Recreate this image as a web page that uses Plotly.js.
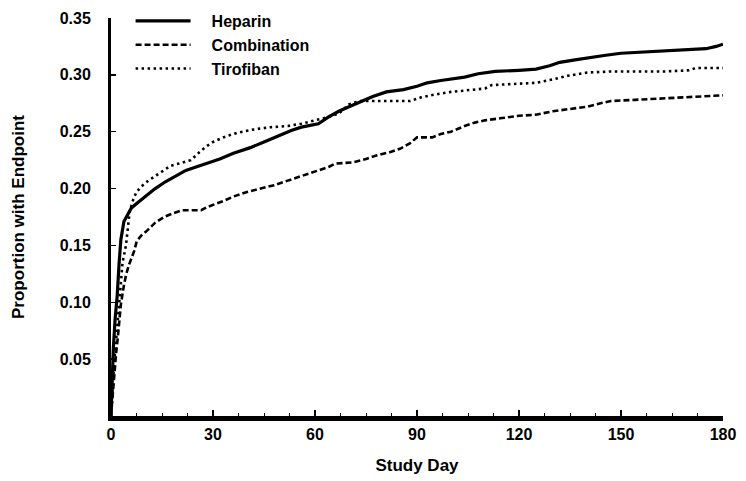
<!DOCTYPE html>
<html>
<head>
<meta charset="utf-8">
<script src="https://cdn.plot.ly/plotly-3.0.1.min.js"></script>
<style>html,body{margin:0;padding:0;background:#fff;}#chart{width:746px;height:481px;}</style>
</head>
<body>
<div id="chart"></div>
<script>
// Heparin (solid)
const heparinDay = [0,0.3,0.7,1.2,1.8,2.4,2.9,3.8,5,6,8,10,13,16,19,22,25,28,32,36,41,45,49,53,56,61,64,67,70,73,77,81,86,90,93,97,100,104,108,113,120,125,129,132,136,140,145,150,157,164,170,175,178,180];
const heparinVal = [0,0.03,0.06,0.085,0.105,0.135,0.155,0.171,0.178,0.183,0.188,0.193,0.2,0.206,0.211,0.216,0.219,0.222,0.226,0.231,0.236,0.241,0.246,0.251,0.254,0.257,0.263,0.268,0.272,0.276,0.281,0.285,0.287,0.29,0.293,0.295,0.296,0.298,0.301,0.303,0.304,0.305,0.308,0.311,0.313,0.315,0.317,0.319,0.32,0.321,0.322,0.323,0.325,0.327];

// Combination (dashed)
const comboDay = [0,0.5,1,1.5,2,2.5,2.9,3.8,4.5,5.3,6.8,7.6,9,10.6,13,15.6,18,21,24,26.5,28.5,30.5,33,36,40,44,48,52,56,61,64,66,71,75,78,82,85,88,90,94.5,97,100,104,107,110,115,120,125,130,135,140,144,147,154,160,164,172,180];
const comboVal = [0,0.02,0.04,0.055,0.069,0.085,0.098,0.115,0.125,0.133,0.145,0.154,0.159,0.163,0.17,0.175,0.178,0.181,0.181,0.181,0.184,0.186,0.189,0.193,0.197,0.2,0.203,0.207,0.211,0.216,0.219,0.222,0.223,0.226,0.229,0.232,0.235,0.24,0.245,0.245,0.248,0.25,0.255,0.258,0.26,0.262,0.264,0.265,0.268,0.27,0.272,0.275,0.277,0.278,0.279,0.28,0.281,0.282];

// Tirofiban (dotted)
const tiroDay = [0,0.5,1,1.6,2.2,2.8,3.4,4.4,4.8,5.5,6.5,7.5,9,11,14,17.5,20,23.5,26,28,30,33,37,42,47,52,56,60,64,67,70,73,80,88,91,94,100,106,110,112,118,125,130,134,140,147,155,163,170,172,180];
const tiroVal = [0,0.03,0.05,0.07,0.09,0.115,0.135,0.15,0.163,0.18,0.19,0.197,0.202,0.207,0.213,0.22,0.222,0.225,0.232,0.237,0.241,0.245,0.249,0.252,0.254,0.255,0.257,0.26,0.263,0.266,0.274,0.277,0.277,0.277,0.28,0.282,0.285,0.287,0.288,0.291,0.292,0.293,0.296,0.299,0.302,0.303,0.303,0.303,0.304,0.306,0.306];

const seriesNames = ["Heparin", "Combination", "Tirofiban"];
const xTickVals = [0,30,60,90,120,150,180];
const yTickVals = [0.05,0.10,0.15,0.20,0.25,0.30,0.35];
const yTickText = ["0.05","0.10","0.15","0.20","0.25","0.30","0.35"];

const FONT = "Liberation Sans, Arial, sans-serif";
const GAP = "\u2003"; // spacing between legend sample and label

const traces = [
  {x: heparinDay, y: heparinVal, name: GAP + seriesNames[0], mode: "lines",
   line: {color: "#000", width: 3.2}},
  {x: comboDay, y: comboVal, name: GAP + seriesNames[1], mode: "lines",
   line: {color: "#000", width: 2.6, dash: "6px,3px"}},
  {x: tiroDay, y: tiroVal, name: GAP + seriesNames[2], mode: "lines",
   line: {color: "#000", width: 2.6, dash: "2.5px,3.5px"}}
];

const layout = {
  width: 746, height: 481,
  margin: {l: 111, r: 23, t: 18, b: 65, autoexpand: false},
  paper_bgcolor: "#fff", plot_bgcolor: "#fff",
  font: {family: FONT, color: "#000", size: 16, weight: "bold"},
  showlegend: true,
  legend: {x: 0.032, y: 1.035, xanchor: "left", yanchor: "top",
           bgcolor: "rgba(0,0,0,0)", itemwidth: 55, tracegroupgap: 0,
           font: {family: FONT, size: 16, weight: "bold", color: "#000"}},
  xaxis: {
    range: [0, 180], tickvals: xTickVals, ticktext: xTickVals.map(String),
    showgrid: false, zeroline: false, showline: true, linecolor: "#000", linewidth: 5,
    ticks: "inside", ticklen: 6, tickwidth: 1.5, tickcolor: "#000",
    minor: {dtick: 7.5, ticks: "inside", ticklen: 3, tickwidth: 1, tickcolor: "#000", showgrid: false},
    tickfont: {family: FONT, size: 16, weight: "bold", color: "#000"},
    title: {text: "Study Day", font: {family: FONT, size: 17, weight: "bold", color: "#000"}, standoff: 18},
    automargin: false
  },
  yaxis: {
    range: [0, 0.35], tickvals: yTickVals, ticktext: yTickText,
    showgrid: false, zeroline: false, showline: true, linecolor: "#000", linewidth: 3,
    ticks: "inside", ticklen: 5, tickwidth: 1.5, tickcolor: "#000",
    ticklabelstandoff: 14,
    tickfont: {family: FONT, size: 16, weight: "bold", color: "#000"},
    title: {text: "Proportion with Endpoint", font: {family: FONT, size: 17, weight: "bold", color: "#000"}, standoff: 31},
    automargin: false
  }
};

Plotly.newPlot("chart", traces, layout, {displayModeBar: false, staticPlot: true});
</script>
</body>
</html>
